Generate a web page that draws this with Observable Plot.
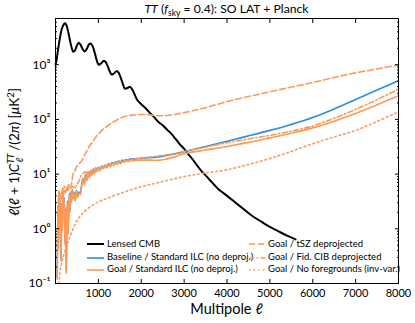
<!DOCTYPE html>
<html>
<head>
<meta charset="utf-8">
<script src="https://cdn.jsdelivr.net/npm/d3@7"></script>
<script src="https://cdn.jsdelivr.net/npm/@observablehq/plot@0.6"></script>
<style>
  html, body { margin: 0; padding: 0; background: white; }
  #wrap { position: relative; width: 415px; height: 323px; font-family: Lato, "Open Sans", sans-serif; color: #000; }
  #title { position: absolute; top: 1px; left: 55px; width: 343px; text-align: center; font-size: 12.2px; }
  #xlabel { position: absolute; top: 300px; left: 55px; width: 343px; text-align: center; font-size: 14.5px; }
  #ylabel { position: absolute; left: 14px; top: 152px; transform: translate(-50%, -50%) rotate(-90deg); white-space: nowrap; font-size: 13.5px; }
  #legend { position: absolute; left: 0; top: 0; width: 415px; height: 323px; pointer-events: none; }
  .lg { position: absolute; font-size: 9.5px; white-space: nowrap; line-height: 12px; }
  sub, sup { font-size: 70%; line-height: 0; }
</style>
</head>
<body>
<div id="wrap">
  <div id="chart"></div>
  <div id="title"><i>TT</i> (<i>f</i><sub>sky</sub> = 0.4): SO LAT + Planck</div>
  <div id="xlabel">Multipole <i>ℓ</i></div>
  <div id="ylabel"><i>ℓ</i>(<i>ℓ</i> + 1)<i>C</i><sup><i>TT</i></sup><sub style="margin-left:-9px"><i>ℓ</i></sub>&nbsp;&nbsp;/(2<i>π</i>) [<i>μ</i>K<sup>2</sup>]</div>
  <div id="legend"></div>
</div>
<script>
// ---- data ----
const cmbEll = [2,30,60,100,150,200,220,250,300,350,400,420,450,500,540,580,630,680,730,780,820,870,920,970,1010,1060,1120,1160,1220,1270,1310,1360,1430,1480,1550,1620,1680,1740,1800,1850,1910,2000,2100,2200,2300,2400,2500,2600,2700,2800,2900,3000,3100,3200,3300,3400,3500,3600,3700,3800,3900,4000,4200,4400,4600,4800,5000,5200,5400,5600];
const cmbD = [1000,1300,1900,3000,4600,5600,5750,5400,3900,2500,1800,1720,1800,2250,2520,2350,1950,1750,1950,2350,2450,2150,1600,1150,1000,1050,1170,1150,930,740,660,690,770,700,500,367,375,394,340,280,224,190,160,132,110,90,78,65,55,44,35,29,23,18.5,14.5,11.5,9.5,7.8,6.4,5.3,4.6,4.0,3.0,2.25,1.7,1.35,1.08,0.9,0.75,0.64];

const goalEll = [40,55,70,85,100,115,130,145,160,175,190,205,220,235,250,265,280,295,310,325,340,355,370,390,410,430,460,490,520,550,580,610,640,670,700,730,760,790,820,850,880,910,940,970,1000,1040,1080,1120,1160,1200,1240,1280,1320,1360,1400,1440,1480,1520,1560,1600,1650,1700,1750,1800,1900,2000,2200,2400,2600,2800,3000,3500,4000,4500,5000,5500,6000,6500,7000,7500,8000];
const goalD = [0.12,2.5,0.4,4.5,1.0,3.8,0.25,2.8,0.9,4.8,1.8,3.5,0.5,2.2,0.15,1.5,3.0,0.8,2.5,4.2,2.0,4.5,3.0,5.0,3.5,4.5,3.2,4.8,3.8,4.5,4.2,6.0,8.0,6.5,9.5,7.5,10.5,8.5,11,9.5,12,10,12.5,11,13,11.5,13.5,12.5,14,13,15,13.5,15.5,14.5,16,15,16.5,15.5,17,16.5,17.5,17,18,17.5,18,18,18,17.8,19,21,23.5,27.5,32,38,46,56,70,93,128,185,270];

const baseEll = [40,55,70,85,100,115,130,145,160,175,190,205,220,235,250,265,280,295,310,325,340,355,370,390,410,430,460,490,520,550,580,610,640,670,700,730,760,790,820,850,880,910,940,970,1000,1040,1080,1120,1160,1200,1240,1280,1320,1360,1400,1440,1480,1520,1560,1600,1650,1700,1750,1800,1900,2000,2200,2400,2600,2800,3000,3500,4000,4500,5000,5500,6000,6500,7000,7500,8000];
const baseD = [0.13,2.6,0.45,4.7,1.1,4.0,0.28,2.9,1.0,5.0,1.9,3.7,0.55,2.3,0.17,1.6,3.2,0.85,2.6,4.4,2.1,4.7,3.1,5.2,3.7,4.7,3.4,5.0,4.0,4.7,4.4,6.3,8.3,6.8,9.9,7.8,11,8.9,11.5,10,12.5,10.5,13,11.5,13.5,12,14,13,14.6,13.6,15.6,14.2,16.2,15.3,16.8,16,17.4,16.6,18,17.6,18.5,18.2,19,18.8,19.2,19.5,20,20.5,22,23.5,25.6,32,40,50,63,81,108,155,232,345,508];

const tszEll = [60,80,100,120,140,160,180,200,230,260,290,320,350,380,410,440,470,500,550,600,700,800,900,1000,1150,1300,1450,1600,1800,2000,2200,2400,2600,2800,3000,3300,3600,4000,4500,5000,5500,6000,6500,7000,7500,8000];
const tszD = [3,5,2.5,4.5,3.5,5.5,4,5,4.5,5.5,5,6,5.5,7,10,11,12.5,14,15.5,17,24,33,43,54,70,85,100,112,120,123,121,117,118,124,133,150,172,212,262,320,390,473,585,710,840,990];

const cibEll = [150,200,250,300,350,400,450,500,550,600,650,700,750,800,900,1000,1100,1200,1300,1400,1500,1600,1800,2000,2200,2400,2600,2800,3000,3500,4000,4500,5000,5500,6000,6500,7000,7500,8000];
const cibD = [4.5,6,5,6.5,5.5,6,5.5,6.5,7.5,9.5,10.5,11,10,11.5,12,13,13.5,14.5,15.5,16,17,17.5,18.5,19.5,20.5,21.5,22.5,24,26,31,37.5,44,51,61,76,105,153,230,358];

const nofgEll = [80,100,150,200,250,300,400,500,600,800,1000,1200,1600,2000,2400,3000,3500,4000,4500,5000,5500,6000,6500,7000,7500,8000];
const nofgD = [0.1,0.15,0.25,0.35,0.45,0.6,0.95,1.4,1.8,2.5,3.1,3.6,4.7,5.9,7.0,9.0,10.5,12,15,19.3,26,36,48,63,92,138];

const xTicks = [1000,2000,3000,4000,5000,6000,7000,8000];
const yMajor = [0.1,1,10,100,1000];
const yMajorLabels = ["10⁻¹","10⁰","10¹","10²","10³"];

const ORANGE = "#ff9955";
const BLUE = "#2b8ce6";

const legendItems = [
  {label: "Lensed CMB", color: "black", dash: null, col: 0, row: 0},
  {label: "Baseline / Standard ILC (no deproj.)", color: BLUE, dash: null, col: 0, row: 1},
  {label: "Goal / Standard ILC (no deproj.)", color: ORANGE, dash: null, col: 0, row: 2},
  {label: "Goal / tSZ deprojected", color: ORANGE, dash: "6,3", col: 1, row: 0},
  {label: "Goal / Fid. CIB deprojected", color: ORANGE, dash: "5,2.5,1.5,2.5", col: 1, row: 1},
  {label: "Goal / No foregrounds (inv-var.)", color: ORANGE, dash: "1.6,3", col: 1, row: 2}
];

// ---- build tables ----
const zip = (e, d) => e.map((l, i) => ({l, d: d[i]}));
const cmb = zip(cmbEll, cmbD);
const goal = zip(goalEll, goalD);
const base = zip(baseEll, baseD);
const tsz = zip(tszEll, tszD);
const cib = zip(cibEll, cibD);
const nofg = zip(nofgEll, nofgD);

const yMinor = [];
for (let e = -1; e <= 3; e++) for (let m = 2; m <= 9; m++) { const v = m * Math.pow(10, e); if (v <= 7000) yMinor.push(v); }
const fmtY = d => { const i = yMajor.findIndex(v => Math.abs(v - d) / d < 1e-6); return i >= 0 ? yMajorLabels[i] : ""; };

const chart = Plot.plot({
  width: 415, height: 323,
  marginLeft: 55, marginRight: 17, marginTop: 18, marginBottom: 40,
  style: {fontFamily: "Lato, 'Open Sans', sans-serif", fontSize: "11px", color: "black", background: "white"},
  x: {domain: [0, 8000]},
  y: {type: "log", domain: [0.1, 7000]},
  marks: [
    Plot.line(cmb, {x: "l", y: "d", stroke: "black", strokeWidth: 2, curve: "catmull-rom"}),
    Plot.line(base, {x: "l", y: "d", stroke: BLUE, strokeWidth: 1.6, curve: "monotone-x"}),
    Plot.line(goal, {x: "l", y: "d", stroke: ORANGE, strokeWidth: 1.6, curve: "monotone-x"}),
    Plot.line(tsz, {x: "l", y: "d", stroke: ORANGE, strokeWidth: 1.6, strokeDasharray: "6,3", curve: "catmull-rom"}),
    Plot.line(cib, {x: "l", y: "d", stroke: ORANGE, strokeWidth: 1.6, strokeDasharray: "5,2.5,1.5,2.5", curve: "catmull-rom"}),
    Plot.line(nofg, {x: "l", y: "d", stroke: ORANGE, strokeWidth: 1.6, strokeDasharray: "1.6,3", curve: "catmull-rom"}),
    Plot.frame({stroke: "black", strokeWidth: 1}),
    Plot.axisX({ticks: xTicks, tickSize: -4, tickPadding: 10, tickFormat: d => String(d), label: null}),
    Plot.axisX({anchor: "top", ticks: xTicks, tickSize: -4, tickFormat: () => "", label: null}),
    Plot.axisY({ticks: yMajor, tickSize: -4, tickPadding: 9, tickFormat: fmtY, label: null, fontSize: 12}),
    Plot.axisY({ticks: yMinor, tickSize: -2, tickFormat: () => "", label: null}),
    Plot.axisY({anchor: "right", ticks: yMajor, tickSize: -4, tickFormat: () => "", label: null}),
    Plot.axisY({anchor: "right", ticks: yMinor, tickSize: -2, tickFormat: () => "", label: null})
  ]
});
document.getElementById("chart").appendChild(chart);

// ---- legend ----
const leg = document.getElementById("legend");
const colX = [87, 249], textX = [107, 268], rowY = [244, 257.5, 269.5];
for (const it of legendItems) {
  const s = document.createElementNS("http://www.w3.org/2000/svg", "svg");
  s.setAttribute("width", 17); s.setAttribute("height", 4);
  s.style.position = "absolute"; s.style.left = colX[it.col] + "px"; s.style.top = (rowY[it.row] - 2) + "px";
  const ln = document.createElementNS("http://www.w3.org/2000/svg", "line");
  ln.setAttribute("x1", 0); ln.setAttribute("x2", 17); ln.setAttribute("y1", 2); ln.setAttribute("y2", 2);
  ln.setAttribute("stroke", it.color); ln.setAttribute("stroke-width", it.color === "black" ? 2 : 1.6);
  if (it.dash) ln.setAttribute("stroke-dasharray", it.dash);
  s.appendChild(ln); leg.appendChild(s);
  const t = document.createElement("div");
  t.className = "lg"; t.textContent = it.label;
  t.style.left = textX[it.col] + "px"; t.style.top = (rowY[it.row] - 6.5) + "px";
  leg.appendChild(t);
}
</script>
</body>
</html>
